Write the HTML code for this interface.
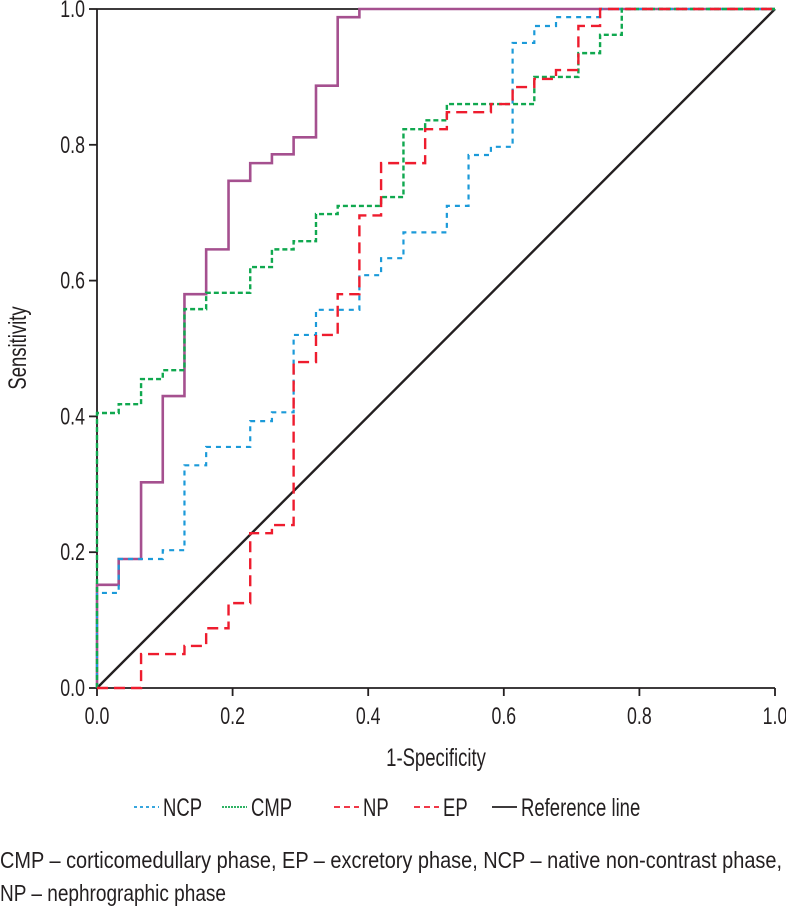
<!DOCTYPE html>
<html><head><meta charset="utf-8"><style>
html,body{margin:0;padding:0;background:#fff;}
svg{display:block;font-family:"Liberation Sans",sans-serif;}
</style></head><body>
<svg id="chart" width="786" height="911" xmlns="http://www.w3.org/2000/svg"></svg>
<script>
const xTicks = [0, 0.2, 0.4, 0.6, 0.8, 1.0];
const yTicks = [0, 0.2, 0.4, 0.6, 0.8, 1.0];
const ncpX = [0, 0, 0.032, 0.097, 0.129, 0.161, 0.226, 0.258, 0.29, 0.323, 0.387, 0.419, 0.452, 0.516, 0.548, 0.581, 0.613, 0.645, 0.677, 0.742, 1];
const ncpY = [0, 0.14, 0.19, 0.203, 0.328, 0.355, 0.393, 0.406, 0.52, 0.557, 0.608, 0.633, 0.671, 0.71, 0.785, 0.797, 0.95, 0.975, 0.988, 1, 1];
const cmpX = [0, 0, 0.032, 0.065, 0.097, 0.129, 0.161, 0.226, 0.258, 0.29, 0.323, 0.355, 0.419, 0.452, 0.484, 0.516, 0.645, 0.71, 0.742, 0.774, 1];
const cmpY = [0, 0.405, 0.418, 0.455, 0.468, 0.558, 0.582, 0.62, 0.646, 0.658, 0.698, 0.71, 0.723, 0.823, 0.836, 0.86, 0.9, 0.935, 0.962, 1, 1];
const npX = [0, 0.065, 0.129, 0.161, 0.194, 0.226, 0.258, 0.29, 0.323, 0.355, 0.387, 0.419, 0.484, 0.516, 0.581, 0.613, 0.645, 0.677, 0.71, 0.742, 1];
const npY = [0, 0.05, 0.062, 0.088, 0.125, 0.228, 0.24, 0.48, 0.52, 0.58, 0.696, 0.773, 0.823, 0.848, 0.86, 0.885, 0.897, 0.91, 0.975, 1, 1];
const epX = [0, 0, 0.032, 0.065, 0.097, 0.129, 0.161, 0.194, 0.226, 0.258, 0.29, 0.323, 0.355, 0.387, 1];
const epY = [0, 0.152, 0.19, 0.303, 0.43, 0.58, 0.646, 0.747, 0.773, 0.786, 0.811, 0.887, 0.988, 1, 1];

const NS = "http://www.w3.org/2000/svg";
const svg = document.getElementById('chart');
const X0 = 97, X1 = 775, Y0 = 688, Y1 = 9;
function sx(v){ return X0 + v * (X1 - X0); }
function sy(v){ return Y0 - v * (Y0 - Y1); }
function mk(tag, attrs, parent){
  const e = document.createElementNS(NS, tag);
  for (const k in attrs) e.setAttribute(k, attrs[k]);
  (parent || svg).appendChild(e);
  return e;
}
function txt(x, y, s, size, anchor, parent){
  const t = mk('text', {x: x, y: y, 'font-size': size, 'text-anchor': anchor || 'middle', fill: '#231f20'}, parent);
  t.textContent = s;
  return t;
}
function stepPath(xs, ys){
  let d = 'M' + sx(xs[0]) + ',' + sy(ys[0]);
  for (let i = 1; i < xs.length; i++){
    d += ' H' + sx(xs[i]) + ' V' + sy(ys[i]);
  }
  return d;
}

const axes = mk('g', {});


const xAxis = mk('line', {x1: X0, y1: Y0, x2: X1, y2: Y0, stroke: '#231f20', 'stroke-width': 1.8}, axes);


const yAxis = mk('line', {x1: X0, y1: Y0, x2: X0, y2: Y1, stroke: '#231f20', 'stroke-width': 1.8}, axes);


const topLine = mk('line', {x1: X0, y1: Y1, x2: X1, y2: Y1, stroke: '#231f20', 'stroke-width': 1.8}, axes);



xTicks.forEach(v => {
  const tk = mk('line', {x1: sx(v), y1: Y0, x2: sx(v), y2: Y0 + 8, stroke: '#231f20', 'stroke-width': 1.8}, axes);
  
  
  const g = mk('g', {transform: 'translate(' + sx(v) + ',724) scale(0.74,1)'}, axes);
  const t = txt(0, 0, v.toFixed(1), 24, 'middle', g);
  
  
});
yTicks.forEach(v => {
  const tk = mk('line', {x1: X0 - 8, y1: sy(v), x2: X0, y2: sy(v), stroke: '#231f20', 'stroke-width': 1.8}, axes);
  
  
  const g = mk('g', {transform: 'translate(85,' + (sy(v) + 8) + ') scale(0.74,1)'}, axes);
  const t = txt(0, 0, v.toFixed(1), 24, 'end', g);
  
  
});

const xt = mk('g', {transform: 'translate(436,766) scale(0.74,1)'});
const xTitle = txt(0, 0, '1-Specificity', 25, 'middle', xt);


const yt = mk('g', {transform: 'translate(26,348) rotate(-90) scale(0.74,1)'});
const yTitle = txt(0, 0, 'Sensitivity', 25, 'middle', yt);



const ref = mk('line', {x1: sx(0), y1: sy(0), x2: sx(1), y2: sy(1), stroke: '#231f20', 'stroke-width': 2.4});



const ep = mk('path', {d: stepPath(epX, epY), fill: 'none', stroke: '#a5508f', 'stroke-width': 2.6});


const ncp = mk('path', {d: stepPath(ncpX, ncpY), fill: 'none', stroke: '#1b9ad9', 'stroke-width': 2.2, 'stroke-dasharray': '5 5'});


const cmp = mk('path', {d: stepPath(cmpX, cmpY), fill: 'none', stroke: '#10a84f', 'stroke-width': 2.4, 'stroke-dasharray': '5 3'});


const np = mk('path', {d: stepPath(npX, npY), fill: 'none', stroke: '#ee1c2e', 'stroke-width': 2.4, 'stroke-dasharray': '11 6'});



const leg = mk('g', {});


const legItems = [
  ['NCP', '#1b9ad9', '3 3', 134, 'legend-entry-ncp'],
  ['CMP', '#10a84f', '2 1', 222, 'legend-entry-cmp'],
  ['NP', '#ee1c2e', '6 4', 334, 'legend-entry-np'],
  ['EP', '#ee1c2e', '6 4', 414, 'legend-entry-ep'],
  ['Reference line', '#231f20', '', 492, 'legend-entry-reference']
];
legItems.forEach(it => {
  const g = mk('g', {}, leg);
  
  
  const a = {x1: it[3], y1: 807, x2: it[3] + 25, y2: 807, stroke: it[1], 'stroke-width': 1.8};
  if (it[2]) a['stroke-dasharray'] = it[2];
  mk('line', a, g);
  const tg = mk('g', {transform: 'translate(' + (it[3] + 29) + ',816) scale(0.74,1)'}, g);
  txt(0, 0, it[0], 25, 'start', tg);
});

const c1 = mk('text', {x: 0, y: 868, 'font-size': 23, fill: '#231f20', textLength: 782, lengthAdjust: 'spacingAndGlyphs'});
c1.textContent = 'CMP – corticomedullary phase, EP – excretory phase, NCP – native non-contrast phase,';


const c2 = mk('text', {x: 0, y: 901, 'font-size': 23, fill: '#231f20', textLength: 226, lengthAdjust: 'spacingAndGlyphs'});
c2.textContent = 'NP – nephrographic phase';


</script>
</body></html>
